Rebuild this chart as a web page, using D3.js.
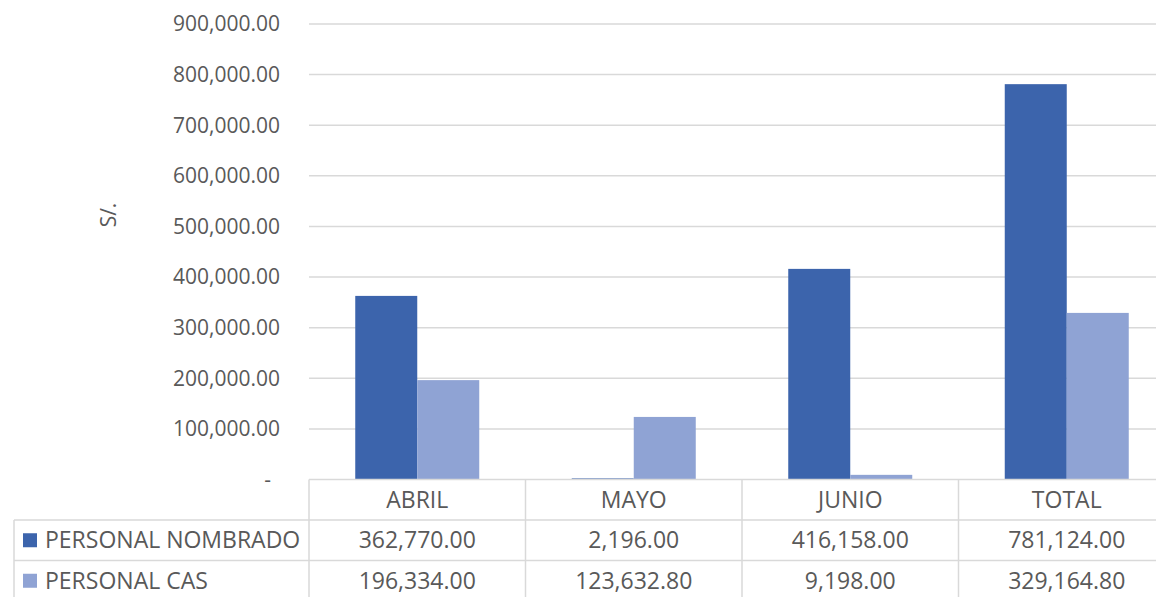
<!DOCTYPE html>
<html>
<head>
<meta charset="utf-8">
<script src="https://cdn.jsdelivr.net/npm/d3@7"></script>
<style>
  body { margin: 0; background: #fff; }
  text { font-family: "Open Sans", sans-serif; fill: #595959; }
</style>
</head>
<body>
<div id="chart"></div>
<script>
// data
var categories = ["ABRIL", "MAYO", "JUNIO", "TOTAL"];
var seriesNames = ["PERSONAL NOMBRADO", "PERSONAL CAS"];
var nombrado = [362770.00, 2196.00, 416158.00, 781124.00];
var cas = [196334.00, 123632.80, 9198.00, 329164.80];
var yTicks = [0, 100000, 200000, 300000, 400000, 500000, 600000, 700000, 800000, 900000];
var colors = ["#3c64ac", "#8fa3d4"];

var width = 1156, height = 597;
var plotLeft = 309, step = 216.5, plotTop = 24, base = 479.5;
var rowH = 40.5;
var tickFont = "21px", tableFont = "23px";

var svg = d3.select("#chart").append("svg")
    .attr("width", width)
    .attr("height", height);

var x = d3.scaleBand()
    .domain(categories)
    .range([plotLeft, plotLeft + step * categories.length])
    .padding(0);

var xs = d3.scaleBand()
    .domain([0, 1])
    .range([0, x.bandwidth()])
    .paddingInner(0)
    .paddingOuter(0.746);

var y = d3.scaleLinear()
    .domain([0, 900000])
    .range([base, plotTop]);

var fmt = d3.format(",.2f");

// gridlines
svg.append("g")
    .selectAll("line")
    .data(yTicks.slice(1))
    .enter().append("line")
        .attr("x1", plotLeft).attr("x2", width)
        .attr("y1", function(d) { return y(d); })
        .attr("y2", function(d) { return y(d); })
        .attr("stroke", "#d9d9d9")
        .attr("stroke-width", 1.5);

// y tick labels
svg.append("g")
    .selectAll("text")
    .data(yTicks)
    .enter().append("text")
        .attr("x", function(d) { return d == 0 ? 271 : 280; })
        .attr("y", function(d) { return y(d); })
        .attr("dy", "0.35em")
        .attr("text-anchor", "end")
        .style("font-size", tickFont)
        .text(function(d) { return d == 0 ? "-" : fmt(d); });

// y title
svg.append("text")
    .attr("transform", "translate(116,215) rotate(-90)")
    .attr("text-anchor", "middle")
    .style("font-size", tickFont)
    .text("S/.");

// bars
var series = [nombrado, cas];
series.forEach(function(vals, si) {
    svg.append("g")
        .selectAll("rect")
        .data(vals)
        .enter().append("rect")
            .attr("x", function(d, i) { return x(categories[i]) + xs(si); })
            .attr("width", xs.bandwidth())
            .attr("y", function(d) { return y(d); })
            .attr("height", function(d) { return base - y(d); })
            .attr("fill", colors[si]);
});

// data table
var tb = svg.append("g").attr("stroke", "#d9d9d9").attr("stroke-width", 1.5);
var tableLeft = 14;
var rowsY = [base, base + rowH, base + 2 * rowH, base + 3 * rowH];
tb.append("line").attr("x1", plotLeft).attr("x2", width).attr("y1", rowsY[0]).attr("y2", rowsY[0]);
tb.append("line").attr("x1", tableLeft).attr("x2", width).attr("y1", rowsY[1]).attr("y2", rowsY[1]);
tb.append("line").attr("x1", tableLeft).attr("x2", width).attr("y1", rowsY[2]).attr("y2", rowsY[2]);
tb.append("line").attr("x1", tableLeft).attr("x2", tableLeft).attr("y1", rowsY[1]).attr("y2", height + 10);
categories.forEach(function(c) {
    tb.append("line").attr("x1", x(c)).attr("x2", x(c)).attr("y1", rowsY[0]).attr("y2", height + 10);
});

// header labels
svg.append("g")
    .selectAll("text")
    .data(categories)
    .enter().append("text")
        .attr("x", function(d) { return x(d) + x.bandwidth() / 2; })
        .attr("y", rowsY[0] + rowH / 2)
        .attr("dy", "0.35em")
        .attr("text-anchor", "middle")
        .style("font-size", tableFont)
        .text(function(d) { return d; });

// rows
series.forEach(function(vals, si) {
    var cy = rowsY[si + 1] + rowH / 2;
    svg.append("rect")
        .attr("x", 23).attr("y", cy - 7)
        .attr("width", 14).attr("height", 14)
        .attr("fill", colors[si]);
    svg.append("text")
        .attr("x", 45).attr("y", cy)
        .attr("dy", "0.35em")
        .style("font-size", tableFont)
        .text(seriesNames[si]);
    svg.append("g")
        .selectAll("text")
        .data(vals)
        .enter().append("text")
            .attr("x", function(d, i) { return x(categories[i]) + x.bandwidth() / 2; })
            .attr("y", cy)
            .attr("dy", "0.35em")
            .attr("text-anchor", "middle")
            .style("font-size", tableFont)
            .text(function(d) { return fmt(d); });
});
</script>
</body>
</html>
